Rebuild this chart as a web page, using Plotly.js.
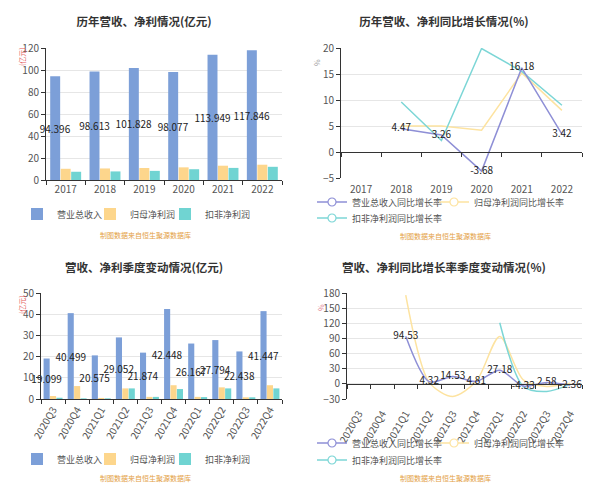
<!DOCTYPE html>
<html><head><meta charset="utf-8">
<script src="https://cdn.plot.ly/plotly-3.0.1.min.js"></script>
<style>body{margin:0;background:#fff;overflow:hidden}.c{position:absolute}</style>
</head><body>
<div id="c1" class="c" style="left:0;top:0;width:300px;height:248px"></div>
<div id="c2" class="c" style="left:300px;top:0;width:300px;height:248px"></div>
<div id="c3" class="c" style="left:0;top:248px;width:300px;height:249px"></div>
<div id="c4" class="c" style="left:300px;top:248px;width:300px;height:249px"></div>
<script>
// ---------- data ----------
const years = ['2017', '2018', '2019', '2020', '2021', '2022'];
const revenueYear = [94.396, 98.613, 101.828, 98.077, 113.949, 117.846];
const netProfitYear = [10.2, 10.5, 10.9, 11.5, 13.0, 13.9];
const deductedYear = [7.5, 7.8, 8.3, 9.8, 11.0, 12.0];

const growthRevenueYear = [null, 4.47, 3.26, -3.68, 16.18, 3.42];
const growthNetYear = [null, 5.0, 5.0, 4.2, 15.2, 8.0];
const growthDeductedYear = [null, 9.6, 2.2, 19.9, 15.5, 9.0];

const quarters = ['2020Q3', '2020Q4', '2021Q1', '2021Q2', '2021Q3', '2021Q4', '2022Q1', '2022Q2', '2022Q3', '2022Q4'];
const revenueQ = [19.099, 40.499, 20.575, 29.052, 21.874, 42.448, 26.167, 27.794, 22.438, 41.447];
const netProfitQ = [1.4, 6.1, 0.5, 5.0, 1.0, 6.5, 1.0, 5.5, 0.8, 6.5];
const deductedQ = [0.6, 0.3, 0.3, 5.0, 1.0, 4.7, 0.9, 5.0, 0.8, 5.0];

const growthRevenueQ = [null, null, 94.53, 4.32, 14.53, 4.81, 27.18, -4.33, 2.58, -2.36];
const growthNetQ = [null, null, 176, 3, -25, 5, 94, 8, -5, 1];
const growthDeductedQ = [null, null, null, null, null, null, 121, -5, -15, -1];

const barNames = ['营业总收入', '归母净利润', '扣非净利润'];
const lineNames = ['营业总收入同比增长率', '归母净利润同比增长率', '扣非净利润同比增长率'];
const titles = ['历年营收、净利情况(亿元)', '历年营收、净利同比增长情况(%)', '营收、净利季度变动情况(亿元)', '营收、净利同比增长率季度变动情况(%)'];
const sourceText = '制图数据来自恒生聚源数据库';

// ---------- style ----------
const FONT = '"Noto Sans CJK SC", "Noto Sans", sans-serif';
const C_REV = '#7c9fd8', C_NET = '#fdd68c', C_DED = '#70d4d2';
const L_REV = '#8e8fd6', L_NET = '#fde3a0', L_DED = '#7cd6d6';
const AX = '#333', GRID = '#e6e6e6', TICK = '#555';

function paper(m, W, H, px, py) {
  return {x: (px - m.l) / (W - m.l - m.r), y: (H - m.b - py) / (H - m.t - m.b)};
}

function baseLayout(W, H, m, title, titleY) {
  m.autoexpand = false;
  return {
    width: W, height: H, margin: m,
    paper_bgcolor: '#fff', plot_bgcolor: '#fff',
    font: {family: FONT, color: TICK, size: 10},
    title: {text: title, xref: 'container', yref: 'container', x: 144 / W, xanchor: 'center', automargin: false,
            y: 1 - titleY / H, yanchor: 'middle', font: {size: 11.5, color: '#333', weight: 'bold'}},
    showlegend: true,
    hovermode: false
  };
}

function legendAt(m, W, H, textX, rowY) {
  const p = paper(m, W, H, textX - 40, rowY);
  return {orientation: 'h', xref: 'paper', yref: 'paper', x: p.x, xanchor: 'left',
          y: p.y, yanchor: 'middle', bgcolor: 'rgba(0,0,0,0)', font: {size: 9, color: TICK},
          itemclick: false, itemdoubleclick: false};
}

function yAxis(range, dtick) {
  return {range: range, dtick: dtick, showline: true, linecolor: AX, linewidth: 1, ticks: 'outside',
          ticklen: 4, tickcolor: AX, gridcolor: GRID, zeroline: false, tickfont: {size: 10, color: TICK},
          fixedrange: true, automargin: false};
}

function sourceAnn(m, W, H, py) {
  const p = paper(m, W, H, 145, py);
  return {text: sourceText, xref: 'paper', yref: 'paper', x: p.x, y: p.y, showarrow: false,
          xanchor: 'center', yanchor: 'middle', font: {size: 7, color: '#e3a044'}};
}

function unitAnn(m, W, H, px, py, txt, color) {
  const p = paper(m, W, H, px, py);
  return {text: txt, xref: 'paper', yref: 'paper', x: p.x, y: p.y, showarrow: false, textangle: -90,
          xanchor: 'center', yanchor: 'middle', font: {size: 7, color: color}};
}

function barChart(id, H, m, cats, rev, net, ded, title, titleY, legendY, srcY, yr, dt, tickangle) {
  const W = 300;
  const legIds = ['legend', 'legend2', 'legend3'];
  const mk = (vals, i, color, withText) => {
    const t = {type: 'bar', x: cats, y: vals, name: barNames[i], legend: legIds[i], marker: {color: color}};
    if (withText) {
      t.text = vals.map(v => String(v));
      t.textposition = 'inside';
      t.insidetextanchor = 'middle';
      t.textangle = 0;
      t.constraintext = 'none';
      t.cliponaxis = false;
      t.textfont = {size: 10, color: '#222'};
    }
    return t;
  };
  const data = [mk(rev, 0, C_REV, true), mk(net, 1, C_NET, false), mk(ded, 2, C_DED, false)];
  const layout = baseLayout(W, H, m, title, titleY);
  layout.barmode = 'group';
  layout.bargap = 0.2;
  layout.bargroupgap = 0.05;
  layout.xaxis = {type: 'category', range: [-0.5, cats.length - 0.5], showline: true, linecolor: AX, ticks: 'outside',
                  tickson: 'boundaries', ticklen: 4, tickcolor: AX, showgrid: false, tickangle: tickangle,
                  tickfont: {size: 10, color: TICK}, fixedrange: true, automargin: false};
  layout.yaxis = yAxis(yr, dt);
  layout.legend = legendAt(m, W, H, 57, legendY);
  layout.legend2 = legendAt(m, W, H, 130, legendY);
  layout.legend3 = legendAt(m, W, H, 205, legendY);
  layout.annotations = [sourceAnn(m, W, H, srcY), unitAnn(m, W, H, 22, 57, '(亿元)', '#e45b5b')];
  Plotly.newPlot(id, data, layout, {displayModeBar: false, staticPlot: true});
}

function lineChart(id, H, m, cats, gRev, gNet, gDed, title, titleY, row1, row2, srcY, yr, dt, tickangle, standoff, shape, unit) {
  const W = 300;
  const lineT = (vals, color, withText) => {
    const t = {type: 'scatter', x: cats, y: vals, mode: withText ? 'lines+text' : 'lines', xaxis: 'x2',
               line: {color: color, width: 1.5, shape: shape, smoothing: 0.8}, showlegend: false, cliponaxis: false};
    if (withText) {
      t.text = vals.map(v => v === null ? '' : v.toFixed(2));
      t.textposition = 'middle center';
      t.textfont = {size: 10, color: '#222'};
    }
    return t;
  };
  const legT = (name, color, leg) => ({type: 'scatter', x: [null], y: [null], name: name, legend: leg, mode: 'lines+markers',
    line: {color: color, width: 1.5}, marker: {symbol: 'circle', size: 8, color: '#fff', line: {color: color, width: 1.2}}});
  const catHolder = {type: 'scatter', x: cats, y: cats.map(() => null), mode: 'lines', showlegend: false, hoverinfo: 'skip'};
  const data = [catHolder, lineT(gNet, L_NET, false), lineT(gDed, L_DED, false), lineT(gRev, L_REV, true),
                legT(lineNames[0], L_REV, 'legend'), legT(lineNames[1], L_NET, 'legend2'), legT(lineNames[2], L_DED, 'legend3')];
  const layout = baseLayout(W, H, m, title, titleY);
  const zeroPos = (0 - yr[0]) / (yr[1] - yr[0]);
  layout.xaxis = {type: 'category', categoryarray: cats, range: [-0.5, cats.length - 0.5], showline: false,
                  ticks: 'outside', ticklen: standoff, tickcolor: 'rgba(0,0,0,0)',
                  showgrid: false, zeroline: false, tickangle: tickangle,
                  tickfont: {size: 10, color: TICK}, fixedrange: true, automargin: false};
  layout.xaxis2 = {type: 'category', categoryarray: cats, range: [-0.5, cats.length - 0.5], overlaying: 'x', anchor: 'free',
                   position: zeroPos, showline: true, linecolor: AX, ticks: 'outside', tickson: 'boundaries', ticklen: 4,
                   tickcolor: AX, showticklabels: false, showgrid: false, zeroline: false, fixedrange: true, automargin: false};
  layout.yaxis = yAxis(yr, dt);
  layout.legend = legendAt(m, W, H, 52, row1);
  layout.legend2 = legendAt(m, W, H, 174, row1);
  layout.legend3 = legendAt(m, W, H, 52, row2);
  layout.annotations = [sourceAnn(m, W, H, srcY), unitAnn(m, W, H, unit.x, unit.y, unit.t, unit.c)];
  Plotly.newPlot(id, data, layout, {displayModeBar: false, staticPlot: true});
}

barChart('c1', 248, {l: 46, r: 18, t: 48, b: 68, pad: 0}, years, revenueYear, netProfitYear, deductedYear,
         titles[0], 22, 214, 235, [0, 120], 20, 0);
lineChart('c2', 248, {l: 41, r: 18, t: 48, b: 70, pad: 0}, years, growthRevenueYear, growthNetYear, growthDeductedYear,
          titles[1], 22, 202, 218, 236, [-5, 20], 5, 0, 2, 'linear', {x: 17, y: 63, t: '%', c: '#999'});
barChart('c3', 249, {l: 41, r: 18, t: 45, b: 98, pad: 0}, quarters, revenueQ, netProfitQ, deductedQ,
         titles[2], 20, 211, 230, [0, 50], 10, -60);
lineChart('c4', 249, {l: 47, r: 18, t: 45, b: 98, pad: 0}, quarters, growthRevenueQ, growthNetQ, growthDeductedQ,
          titles[3], 20, 195, 212, 230, [-30, 180], 30, -60, 4, 'spline', {x: 21, y: 60, t: '%', c: '#e07a8a'});
</script>
</body></html>
